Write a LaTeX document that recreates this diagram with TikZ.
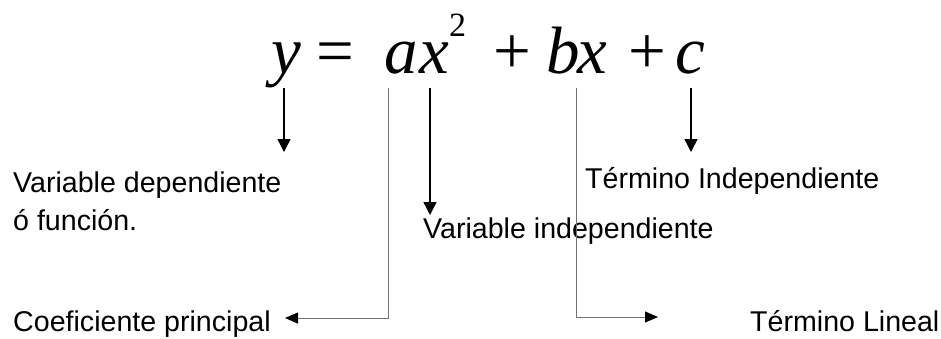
\documentclass[tikz,border=0pt]{standalone}
\usepackage{fontspec}
\setmainfont{Liberation Sans}
\newfontfamily\eqfont{Liberation Serif}
\usetikzlibrary{arrows.meta}
\tikzset{
  lbl/.style={anchor=base west, inner sep=0pt, font=\fontsize{28.6}{30}\selectfont, text=black},
  eqit/.style={anchor=base west, inner sep=0pt, font=\eqfont\fontsize{67}{70}\selectfont\itshape},
  eqrm/.style={anchor=base west, inner sep=0pt, font=\eqfont\fontsize{67}{70}\selectfont},
  eqsup/.style={anchor=base west, inner sep=0pt, font=\eqfont\fontsize{34}{36}\selectfont},
  blackarrow/.style={draw=black, line width=1.4pt, -{Triangle[width=13pt,length=13pt]}},
  grayarrow/.style={draw=black!55, line width=1pt, -{Triangle[width=11pt,length=13pt,color=black,fill=black]}},
}
\begin{document}
\begin{tikzpicture}[x=1pt,y=-1pt]
\useasboundingbox (0,0) rectangle (941,338);
% equation
\node[eqit] (eqy) at (271.6,73) {y};
\node[eqrm] (eqeq) at (316,73) {=};
\node[eqit] (eqa) at (384,73) {a};
\node[eqit] (eqx) at (419,73) {x};
\node[eqsup] (eqtwo) at (449,36) {2};
\node[eqrm] (eqplus) at (493,73) {+};
\node[eqit] (eqb) at (546,73) {b};
\node[eqit] (eqxx) at (577,73) {x};
\node[eqrm] (eqplusb) at (628,73) {+};
\node[eqit] (eqc) at (675,73) {c};
% labels
\node[lbl] (vd) at (13,192) {Variable dependiente};
\node[lbl] (of) at (13,230) {ó función.};
\node[lbl] (vi) at (423,238) {Variable independiente};
\node[lbl] (ti) at (585,188) {Término Independiente};
\node[lbl] (cp) at (13,331) {Coeficiente principal};
\node[lbl] (tl) at (750,331) {Término Lineal};
% connector coordinates
\coordinate (sy) at (284,88);
\coordinate (ey) at (284,152);
\coordinate (sa) at (388,88);
\coordinate (ca) at (388,318);
\coordinate (ea) at (285,318);
\coordinate (sx) at (430,88);
\coordinate (ex) at (430,215);
\coordinate (sb) at (576,88);
\coordinate (cb) at (576,317);
\coordinate (eb) at (658,317);
\coordinate (sc) at (691,88);
\coordinate (ec) at (691,152);
% connectors
\draw[blackarrow] (sy) -- (ey);
\draw[blackarrow] (sx) -- (ex);
\draw[blackarrow] (sc) -- (ec);
\draw[grayarrow] (sa) -- (ca) -- (ea);
\draw[grayarrow] (sb) -- (cb) -- (eb);
\end{tikzpicture}
\end{document}
